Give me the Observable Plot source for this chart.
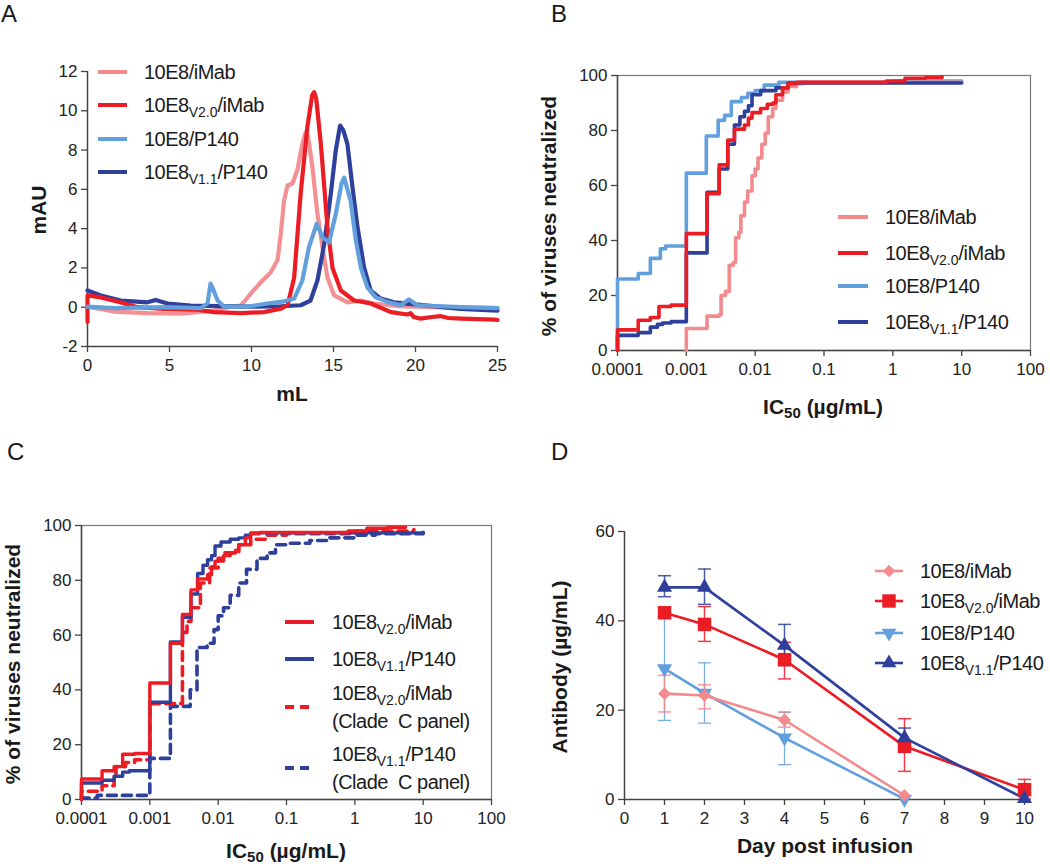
<!DOCTYPE html>
<html><head><meta charset="utf-8">
<script src="https://cdn.jsdelivr.net/npm/d3@7"></script>
<script src="https://cdn.jsdelivr.net/npm/@observablehq/plot@0.6"></script>
<style>
html,body{margin:0;padding:0;background:#fff;}
#fig{position:relative;width:1050px;height:866px;overflow:hidden;font-family:"Liberation Sans",Arial,Helvetica,sans-serif;color:#1a1a1a;}
.panel{position:absolute;}
.panel svg{display:block;}
.letter{position:absolute;font-size:24px;line-height:24px;}
.ttl{position:absolute;font-weight:bold;font-size:21px;line-height:22px;white-space:nowrap;}
.ttl sub{font-size:15px;line-height:0;vertical-align:-4px;}
.h{transform:translate(-50%,-50%);}
.v{transform:translate(-50%,-50%) rotate(-90deg);}
.lg{position:absolute;display:flex;align-items:center;white-space:nowrap;transform:translateY(-50%);font-size:20px;line-height:22px;letter-spacing:-0.5px;}
.lg sub{font-size:14px;line-height:0;vertical-align:-5px;letter-spacing:0;}
.lg svg{display:block;flex:none;}
</style></head><body><div id="fig"></div>
<script>
// ---------- colours ----------
const colPink = "#F38A8D", colRed = "#EC1C24", colLight = "#629FDD", colDark = "#2E3F9C";

// ---------- names ----------
const nameIMab = "10E8/iMab";
const nameV20 = "10E8<sub>V2.0</sub>/iMab";
const nameP140 = "10E8/P140";
const nameV11 = "10E8<sub>V1.1</sub>/P140";
const nameClade = "(Clade&nbsp;&nbsp;C panel)";

// ---------- Panel A: size-exclusion traces (mL, mAU) ----------
const aIMab = [[0,0.03],[0.5,-0.05],[1.6,-0.22],[3.7,-0.3],[5.7,-0.33],[7.7,-0.17],[8.7,0.03],[9.35,0.08],[9.96,0.7],[10.57,1.27],[11.18,1.78],[11.59,2.4],[11.79,3.75],[11.98,5.4],[12.2,6.2],[12.5,6.3],[12.8,7.0],[13.1,8.3],[13.3,8.9],[13.45,8.7],[13.72,7.1],[14.0,4.9],[14.33,3.05],[14.63,1.5],[15.04,0.6],[15.85,0.25],[16.67,0.34],[17.48,0.19],[19,0.05],[21,0.0],[23,-0.02],[25,-0.05]];
const aV20 = [[0,-0.75],[0,0.6],[0.8,0.5],[2.0,0.25],[3.05,0],[4.65,-0.08],[6.7,-0.13],[7.7,-0.25],[9.35,-0.3],[10.75,-0.25],[11.8,-0.07],[12.2,0.1],[12.6,1.5],[13.0,5.8],[13.41,9.2],[13.7,10.8],[13.82,10.95],[13.95,10.6],[14.23,8.3],[14.63,4.1],[14.94,2.0],[15.45,0.85],[16.26,0.34],[17.27,0.19],[18.5,-0.25],[19.5,-0.37],[19.7,-0.3],[19.9,-0.5],[20.3,-0.58],[21.0,-0.5],[21.5,-0.45],[22.0,-0.55],[22.77,-0.58],[24.8,-0.63],[25,-0.65]];
const aP140 = [[0,0.03],[1.6,-0.05],[4.7,0],[6.9,-0.05],[7.32,0.2],[7.5,1.2],[7.62,1.0],[7.93,0.34],[8.33,0.03],[9.76,0.03],[10.97,0.19],[12.0,0.3],[12.6,0.44],[13.1,1.36],[13.5,3.05],[13.98,4.25],[14.33,3.56],[14.73,3.3],[15.14,4.75],[15.49,6.3],[15.65,6.6],[16.05,5.4],[16.36,3.4],[16.67,2.0],[17.07,1.0],[17.58,0.5],[18.3,0.27],[19.1,0.1],[19.6,0.4],[20.1,0.1],[22.8,0],[25,-0.05]];
const aV11 = [[0,0.85],[0.82,0.6],[2.03,0.34],[3.66,0.25],[4.16,0.37],[4.88,0.19],[6.3,0.08],[9.76,0.03],[11.8,0.05],[13.0,0.1],[13.6,0.34],[14.02,1.36],[14.43,3.2],[14.84,5.8],[15.14,8.0],[15.4,9.25],[15.6,9.0],[15.85,8.3],[16.16,6.1],[16.46,4.1],[16.87,2.0],[17.27,0.85],[17.88,0.44],[18.7,0.25],[20.73,0.08],[22.76,-0.08],[25,-0.17]];
const aXTicks = [0,5,10,15,20,25];
const aYTicks = [-2,0,2,4,6,8,10,12];
const aXTickLabels = ["0","5","10","15","20","25"];
const aYTickLabels = ["-2","0","2","4","6","8","10","12"];

// ---------- Panel B: cumulative neutralization (IC50, %) ----------
const bP140 = [[1e-4,0],[1e-4,26],[2e-4,28],[3e-4,33.5],[4.2e-4,37],[5e-4,38],[1e-3,64.5],[1.95e-3,78],[2.9e-3,83.7],[3.6e-3,85.5],[4.5e-3,90.5],[6.3e-3,92],[7.8e-3,93.5],[1e-2,94.5],[1.35e-2,96.5],[2.2e-2,97.5],[1,98],[10,98]];
const bV11 = [[1e-4,0],[1e-4,5.5],[2e-4,6.5],[3e-4,8.5],[3.8e-4,9.5],[4.5e-4,10],[6e-4,10.5],[1e-3,35.5],[2e-3,57.5],[3e-3,66],[4e-3,75],[5e-3,82],[6e-3,85],[7e-3,87],[8e-3,89],[9e-3,93],[1.2e-2,94.5],[2e-2,95.5],[3e-2,97.3],[10,97.3]];
const bV20 = [[1e-4,0],[1e-4,7.5],[2e-4,11],[3e-4,12],[4e-4,16],[6e-4,16.5],[1e-3,42.5],[2e-3,57],[3e-3,67.5],[4e-3,76.5],[5e-3,80.5],[7e-3,82],[8e-3,84.5],[9e-3,86.5],[1.2e-2,88],[1.5e-2,89.5],[1.8e-2,90],[2e-2,93],[2.5e-2,95.5],[3e-2,97],[4e-2,97.5],[0.8,98],[1.5,99],[3,99.3],[5.2,99.5]];
const bIMab = [[1e-3,0],[1e-3,8],[2e-3,12.5],[3e-3,13],[3.2e-3,20],[3.7e-3,21.5],[4.2e-3,31],[4.8e-3,32],[5.2e-3,41],[5.8e-3,43],[6.2e-3,49],[7e-3,54],[7.8e-3,58],[9e-3,63.5],[1e-2,66],[1.1e-2,70],[1.25e-2,75],[1.4e-2,79],[1.55e-2,85],[1.8e-2,88],[2e-2,91],[2.5e-2,94],[3e-2,96],[4e-2,97],[5e-2,97.5],[10,97.5]];
const icTicks = [1e-4,1e-3,1e-2,1e-1,1,10,100];
const icTickLabels = ["0.0001","0.001","0.01","0.1","1","10","100"];
const pctTicks = [0,20,40,60,80,100];

// ---------- Panel C: global vs Clade C panel ----------
const cV20 = [[1e-4,0],[1e-4,7.5],[2e-4,10.5],[3e-4,12],[4e-4,16.5],[6e-4,16.8],[1e-3,42.5],[2e-3,57],[3e-3,67.5],[4e-3,76.5],[5e-3,80.5],[7e-3,82],[8e-3,85],[9e-3,87],[1.2e-2,89],[1.5e-2,90],[1.8e-2,91],[2e-2,93],[2.5e-2,95.5],[3e-2,97],[4e-2,97.5],[0.8,98],[1.5,99],[3,99.3],[5.5,99.5]];
const cV11 = [[1e-4,0],[1e-4,6],[2e-4,7],[3e-4,8.5],[4e-4,10],[5e-4,10.5],[1e-3,35.5],[2e-3,57.5],[3e-3,66.5],[4e-3,75],[5e-3,82.5],[6e-3,85.5],[7e-3,87.5],[8e-3,89],[9e-3,92.5],[1.1e-2,94],[1.5e-2,95],[2e-2,95.5],[2.5e-2,96.5],[3e-2,97.3],[10,97.3]];
const cV20Clade = [[1e-4,0],[1e-4,3],[1.6e-4,3],[2e-4,5],[3e-4,9],[3.2e-4,12],[4.4e-4,13.5],[6e-4,14.5],[1e-3,35],[3e-3,61],[3.5e-3,65],[4e-3,70],[5.5e-3,79],[7.5e-3,84.5],[1e-2,88],[1.2e-2,90],[2e-2,93],[3e-2,95],[5e-2,96.5],[0.1,97],[1,98],[7.3,98.5]];
const cV11Clade = [[1e-4,0],[1e-4,0.5],[1.7e-4,1.5],[9e-4,2.5],[1e-3,15],[2e-3,34],[3.9e-3,40],[4.9e-3,55.5],[6.9e-3,57],[8.7e-3,62],[1e-2,67],[1.2e-2,70],[1.5e-2,74.5],[2e-2,79],[2.6e-2,84],[3.7e-2,88],[5.2e-2,90],[6.9e-2,93],[0.1,93.5],[0.22,94.5],[0.4,95.5],[1,96.5],[2,97],[10,97.5]];

// ---------- Panel D: antibody levels (day, µg/mL, mean with error) ----------
const dIMabDays = [1,2,4,7],        dIMabVals = [23.7,23.3,17.8,0.9],      dIMabLo = [19.6,20.3,16.2,null], dIMabHi = [27.8,25.7,19.6,null];
const dV20Days  = [1,2,4,7,10],     dV20Vals  = [41.8,39.2,31.3,11.9,2.2], dV20Lo  = [40.6,35.4,27.0,6.3,0.1], dV20Hi = [43.0,43.2,35.2,18.1,4.5];
const dP140Days = [1,2,4,7],        dP140Vals = [29.3,23.8,13.8,0.1],      dP140Lo = [17.7,17.1,7.8,null],  dP140Hi = [41.2,30.6,19.5,null];
const dV11Days  = [1,2,4,7,10],     dV11Vals  = [47.5,47.5,34.5,13.8,0.2], dV11Lo  = [45.4,43.7,30.0,11.7,null], dV11Hi = [50.1,51.6,39.2,16.0,null];
const dXTicks = [0,1,2,3,4,5,6,7,8,9,10];
const dYTicks = [0,20,40,60];

// ---------- helpers ----------
const FONT = '"Liberation Sans",Arial,Helvetica,sans-serif';
const fig = document.getElementById("fig");
const pts = a => a.map(([x, y]) => ({x, y}));
const labelFor = (ticks, labels) => d => labels[ticks.indexOf(d)] ?? String(d);
function place(node, left, top) {
  const d = document.createElement("div");
  d.className = "panel"; d.style.left = left + "px"; d.style.top = top + "px";
  d.appendChild(node); fig.appendChild(d);
}
function html(cls, content, left, top) {
  const d = document.createElement("div");
  d.className = cls; d.innerHTML = content;
  d.style.left = left + "px"; d.style.top = top + "px";
  fig.appendChild(d); return d;
}
function swatch(color, {w = 30, sw = 4, dash = null, symbol = null, size = 0, rotate = 0} = {}) {
  let s = `<svg width="${w}" height="20"><line x1="0" x2="${w}" y1="10" y2="10" stroke="${color}" stroke-width="${sw}"${dash ? ` stroke-dasharray="${dash}"` : ""}/>`;
  if (symbol) s += `<path transform="translate(${w/2},10) rotate(${rotate})" d="${d3.symbol(symbol, size)()}" fill="${color}"/>`;
  return s + "</svg>";
}
function legendRow(left, top, sw, label, gap) {
  return html("lg", sw + `<span style="margin-left:${gap}px">${label}</span>`, left, top);
}
const axisStyle = {stroke: "#444", strokeWidth: 1.3, fill: "#222", tickSize: 6, label: null};
const plotStyle = {fontFamily: FONT, fontSize: "17px", color: "#222", background: "transparent", overflow: "visible"};

// ================= Panel A =================
const plotA = Plot.plot({
  width: 525, height: 433, marginLeft: 87, marginRight: 28, marginTop: 71, marginBottom: 87,
  x: {domain: [0, 25]}, y: {domain: [-2, 12]}, style: plotStyle,
  marks: [
    Plot.ruleX([0], {stroke: "#444", strokeWidth: 1.5}),
    Plot.ruleY([-2], {stroke: "#444", strokeWidth: 1.5}),
    Plot.axisY({...axisStyle, ticks: aYTicks, tickFormat: labelFor(aYTicks, aYTickLabels), tickPadding: 4}),
    Plot.axisX({...axisStyle, ticks: aXTicks, tickFormat: labelFor(aXTicks, aXTickLabels), tickPadding: 6}),
    Plot.line(pts(aIMab), {x: "x", y: "y", stroke: colPink, strokeWidth: 4.2, strokeOpacity: 0.95}),
    Plot.line(pts(aV11), {x: "x", y: "y", stroke: colDark, strokeWidth: 4.2}),
    Plot.line(pts(aV20), {x: "x", y: "y", stroke: colRed, strokeWidth: 4.2}),
    Plot.line(pts(aP140), {x: "x", y: "y", stroke: colLight, strokeWidth: 4.2})
  ]
});
place(plotA, 0, 0);

// ================= Panel B =================
const plotB = Plot.plot({
  width: 525, height: 433, marginLeft: 92, marginRight: 20, marginTop: 75, marginBottom: 83,
  x: {type: "log", domain: [1e-4, 100]}, y: {domain: [0, 100]}, style: plotStyle,
  marks: [
    Plot.frame({stroke: "#777", strokeWidth: 1.2}),
    Plot.ruleX([1e-4], {stroke: "#444", strokeWidth: 1.5}),
    Plot.ruleY([0], {stroke: "#444", strokeWidth: 1.5}),
    Plot.axisY({...axisStyle, ticks: pctTicks, tickFormat: d => String(d), tickPadding: 4}),
    Plot.axisX({...axisStyle, ticks: icTicks, tickFormat: labelFor(icTicks, icTickLabels), tickPadding: 6}),
    Plot.line(pts(bP140), {x: "x", y: "y", stroke: colLight, strokeWidth: 3.6, curve: "step-after"}),
    Plot.line(pts(bIMab), {x: "x", y: "y", stroke: colPink, strokeWidth: 3.6, curve: "step-after"}),
    Plot.line(pts(bV11), {x: "x", y: "y", stroke: colDark, strokeWidth: 3.6, curve: "step-after"}),
    Plot.line(pts(bV20), {x: "x", y: "y", stroke: colRed, strokeWidth: 3.6, curve: "step-after"})
  ]
});
place(plotB, 525, 0);

// ================= Panel C =================
const plotC = Plot.plot({
  width: 525, height: 433, marginLeft: 81, marginRight: 34, marginTop: 92, marginBottom: 67,
  x: {type: "log", domain: [1e-4, 100]}, y: {domain: [0, 100]}, style: plotStyle,
  marks: [
    Plot.frame({stroke: "#777", strokeWidth: 1.2}),
    Plot.ruleX([1e-4], {stroke: "#444", strokeWidth: 1.5}),
    Plot.ruleY([0], {stroke: "#444", strokeWidth: 1.5}),
    Plot.axisY({...axisStyle, ticks: pctTicks, tickFormat: d => String(d), tickPadding: 4}),
    Plot.axisX({...axisStyle, ticks: icTicks, tickFormat: labelFor(icTicks, icTickLabels), tickPadding: 6}),
    Plot.line(pts(cV11Clade), {x: "x", y: "y", stroke: colDark, strokeWidth: 3.6, strokeDasharray: "9,6", curve: "step-after"}),
    Plot.line(pts(cV20Clade), {x: "x", y: "y", stroke: colRed, strokeWidth: 3.6, strokeDasharray: "9,6", curve: "step-after"}),
    Plot.line(pts(cV11), {x: "x", y: "y", stroke: colDark, strokeWidth: 3.4, curve: "step-after"}),
    Plot.line(pts(cV20), {x: "x", y: "y", stroke: colRed, strokeWidth: 3.4, curve: "step-after"})
  ]
});
place(plotC, 0, 433);

// ================= Panel D =================
function dRows(days, vals, lo, hi) {
  return days.map((day, i) => ({day, v: vals[i], lo: lo[i], hi: hi[i]}));
}
const dSeries = [
  {rows: dRows(dP140Days, dP140Vals, dP140Lo, dP140Hi), color: colLight, symbol: "triangle", r: 5.6, rotate: 180, ew: 1.3},
  {rows: dRows(dIMabDays, dIMabVals, dIMabLo, dIMabHi), color: colPink, symbol: "diamond2", r: 5.8, rotate: 0, ew: 1.5},
  {rows: dRows(dV20Days, dV20Vals, dV20Lo, dV20Hi), color: colRed, symbol: "square", r: 7.6, rotate: 0, ew: 1.5},
  {rows: dRows(dV11Days, dV11Vals, dV11Lo, dV11Hi), color: colDark, symbol: "triangle", r: 5.6, rotate: 0, ew: 1.5}
];
const capSymbol = {draw(ctx, size) { const h = Math.sqrt(size / Math.PI); ctx.moveTo(-h, 0); ctx.lineTo(h, 0); }};
const dMarks = [
  Plot.ruleX([0], {y1: 0, y2: 60, stroke: "#444", strokeWidth: 1.5}),
  Plot.ruleY([0], {x1: 0, x2: 10, stroke: "#444", strokeWidth: 1.5}),
  Plot.axisY({...axisStyle, ticks: dYTicks, tickFormat: d => String(d), tickPadding: 4}),
  Plot.axisX({...axisStyle, ticks: dXTicks, tickFormat: d => String(d), tickPadding: 6})
];
for (const s of dSeries) {
  const err = s.rows.filter(r => r.lo != null && r.hi != null);
  dMarks.push(Plot.ruleX(err, {x: "day", y1: "lo", y2: "hi", stroke: s.color, strokeWidth: s.ew, strokeOpacity: 0.85}));
  dMarks.push(Plot.dot(err, {x: "day", y: "lo", symbol: capSymbol, r: 6.5, stroke: s.color, fill: "none", strokeWidth: s.ew, strokeOpacity: 0.85}));
  dMarks.push(Plot.dot(err, {x: "day", y: "hi", symbol: capSymbol, r: 6.5, stroke: s.color, fill: "none", strokeWidth: s.ew, strokeOpacity: 0.85}));
}
for (const s of dSeries) dMarks.push(Plot.line(s.rows, {x: "day", y: "v", stroke: s.color, strokeWidth: 2.6}));
for (const s of dSeries) dMarks.push(Plot.dot(s.rows, {x: "day", y: "v", symbol: s.symbol, r: s.r, fill: s.color, stroke: "none", rotate: s.rotate}));
const plotD = Plot.plot({
  width: 525, height: 433, marginLeft: 99, marginRight: 26, marginTop: 98, marginBottom: 67,
  x: {domain: [0, 10]}, y: {domain: [0, 60]}, style: plotStyle, marks: dMarks
});
place(plotD, 525, 433);

// ================= panel letters =================
html("letter", "A", 1, 2);
html("letter", "B", 551, 2);
html("letter", "C", 7, 440);
html("letter", "D", 551, 440);

// ================= axis titles =================
html("ttl v", "mAU", 39, 210);
html("ttl h", "mL", 292, 394);
html("ttl v", "% of viruses neutralized", 549, 216);
html("ttl h", "IC<sub>50</sub> (µg/mL)", 823, 407);
html("ttl v", "% of viruses neutralized", 13, 664);
html("ttl h", "IC<sub>50</sub> (µg/mL)", 286, 851);
html("ttl v", "Antibody (µg/mL)", 560, 667);
html("ttl h", "Day post infusion", 825, 846);

// ================= legends =================
// A
legendRow(98, 72, swatch(colPink, {w: 29}), nameIMab, 17);
legendRow(98, 105, swatch(colRed, {w: 29}), nameV20, 17);
legendRow(98, 139, swatch(colLight, {w: 29}), nameP140, 17);
legendRow(98, 172, swatch(colDark, {w: 29}), nameV11, 17);
// B
legendRow(838, 217, swatch(colPink), nameIMab, 17);
legendRow(838, 253, swatch(colRed), nameV20, 17);
legendRow(838, 286, swatch(colLight), nameP140, 17);
legendRow(838, 322, swatch(colDark), nameV11, 17);
// C
legendRow(285, 622, swatch(colRed, {w: 29}), nameV20, 18);
legendRow(285, 659, swatch(colDark, {w: 29}), nameV11, 18);
legendRow(285, 707, swatch(colRed, {w: 29, dash: "9,6"}), `<span style="display:inline-block;line-height:28px">${nameV20}<br>${nameClade}</span>`, 18);
legendRow(285, 768, swatch(colDark, {w: 29, dash: "9,6"}), `<span style="display:inline-block;line-height:28px">${nameV11}<br>${nameClade}</span>`, 18);
// D
legendRow(875, 571, swatch(colPink, {w: 28, sw: 2.6, symbol: d3.symbolDiamond2, size: 100}), nameIMab, 17);
legendRow(875, 601, swatch(colRed, {w: 28, sw: 2.6, symbol: d3.symbolSquare, size: 180}), nameV20, 17);
legendRow(875, 633, swatch(colLight, {w: 28, sw: 2.6, symbol: d3.symbolTriangle, size: 95, rotate: 180}), nameP140, 17);
legendRow(875, 663, swatch(colDark, {w: 28, sw: 2.6, symbol: d3.symbolTriangle, size: 95}), nameV11, 17);
</script></body></html>
